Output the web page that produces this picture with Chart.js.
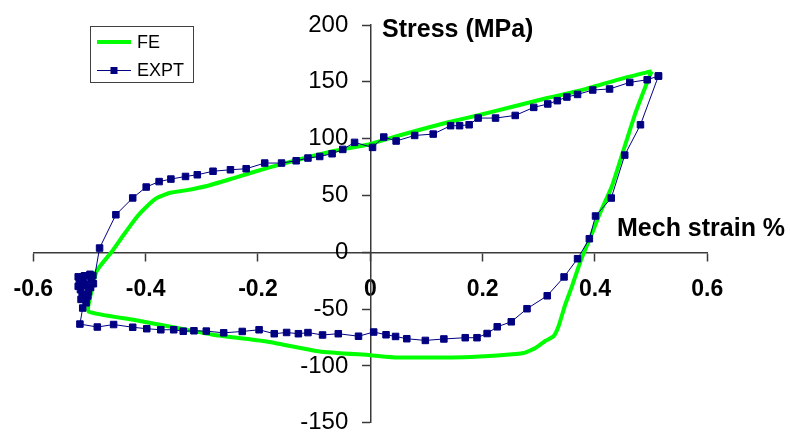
<!DOCTYPE html>
<html>
<head>
<meta charset="utf-8">
<script src="https://cdn.jsdelivr.net/npm/chart.js@4"></script>
<style>
  html, body { margin: 0; padding: 0; background: #ffffff; }
  #wrap { width: 790px; height: 432px; }
</style>
</head>
<body>
<div id="wrap"><canvas id="chart" width="790" height="432"></canvas></div>
<script>
// Hysteresis loop: mechanical strain (%) vs stress (MPa)

// Finite-element prediction
const strainFE = [0.501, 0.490, 0.472, 0.451, 0.430, 0.409, 0.393, 0.380, 0.371, 0.359,
  0.347, 0.335, 0.326, 0.312, 0.294, 0.273, 0.232, 0.166, 0.095, 0.048,
  0.000, -0.090, -0.185, -0.280, -0.327, -0.422, -0.502, -0.499, -0.487, -0.460,
  -0.439, -0.415, -0.398, -0.380, -0.356, -0.326, -0.291, -0.243, -0.184, -0.125,
  -0.065, -0.006, 0.053, 0.137, 0.196, 0.255, 0.315, 0.374, 0.451, 0.501];
const stressFE = [159.3, 145.9, 122.5, 90.2, 57.9, 34.5, 14.5, -0.7, -12.5, -30.1,
  -46.2, -65.3, -74.1, -77.9, -84.3, -88.7, -90.6, -92.4, -92.6, -92.6,
  -90.6, -87.3, -78.5, -72.6, -68.2, -59.4, -52.1, -40.0, -16.3, 0.7,
  15.4, 31.5, 40.3, 47.7, 52.4, 54.7, 58.3, 65.3, 74.1, 81.8,
  89.1, 94.6, 103.0, 114.2, 121.0, 128.3, 135.7, 142.4, 153.3, 159.3];

// Experimental measurements
const strainExpt = [0.513, 0.481, 0.453, 0.429, 0.401, 0.390, 0.369, 0.345, 0.315, 0.279,
  0.251, 0.226, 0.208, 0.190, 0.169, 0.131, 0.098, 0.065, 0.045, 0.028,
  0.006, -0.021, -0.057, -0.085, -0.111, -0.128, -0.149, -0.171, -0.198, -0.228,
  -0.261, -0.292, -0.314, -0.333, -0.350, -0.373, -0.398, -0.423, -0.457, -0.486,
  -0.517, -0.512, -0.506, -0.509, -0.515, -0.502, -0.513, -0.503, -0.516, -0.498,
  -0.506, -0.512, -0.520, -0.518, -0.494, -0.512, -0.497, -0.509, -0.499, -0.520,
  -0.493, -0.482, -0.453,
  -0.423, -0.399, -0.376, -0.355, -0.329, -0.308, -0.280, -0.249, -0.221, -0.188,
  -0.158, -0.132, -0.111, -0.090, -0.068, -0.049, -0.028, 0.004, 0.024, 0.046,
  0.079, 0.112, 0.143, 0.159, 0.176, 0.192, 0.223, 0.258, 0.291, 0.316,
  0.333, 0.350, 0.369, 0.396, 0.426, 0.462, 0.493, 0.513];
const stressExpt = [155.1, 112.2, 85.5, 47.7, 31.9, 11.9, -5.7, -21.7, -38.3, -49.7,
  -61.2, -65.6, -71.5, -75.2, -75.2, -76.3, -77.6, -76.1, -74.1, -72.6,
  -70.2, -73.9, -71.7, -72.8, -70.7, -71.7, -70.6, -71.7, -68.2, -69.7,
  -70.9, -69.4, -69.1, -69.5, -68.2, -68.2, -67.3, -66.0, -63.6, -65.8,
  -63.2, -49.1, -44.5, -40.0, -41.5, -34.8, -37.0, -38.5, -33.0, -31.0,
  -28.6, -29.0, -30.0, -25.1, -20.5, -24.0, -23.3, -20.7, -19.4, -21.6,
  -27.7, 3.7, 33.0,
  47.8, 57.4, 62.2, 64.4, 66.7, 68.2, 71.3, 72.6, 73.5, 78.5,
  78.5, 80.5, 82.9, 84.3, 86.7, 90.5, 96.7, 92.3, 101.4, 97.9,
  102.8, 104.0, 111.4, 111.4, 112.2, 118.1, 118.1, 120.4, 127.5, 130.5,
  133.4, 136.6, 138.9, 142.8, 143.7, 149.5, 151.8, 155.1];

// Axis ticks
const xTickValues = [-0.6, -0.4, -0.2, 0, 0.2, 0.4, 0.6];
const xTickLabels = ['-0.6', '-0.4', '-0.2', '0', '0.2', '0.4', '0.6'];
const yTickValues = [-150, -100, -50, 0, 50, 100, 150, 200];
const yTickLabels = ['-150', '-100', '-50', '0', '50', '100', '150', '200'];

const seriesNames = ['FE', 'EXPT'];
const axisTitles = { x: 'Mech strain %', y: 'Stress (MPa)' };

const toPoints = (xs, ys) => xs.map((x, i) => ({ x: x, y: ys[i] }));

const AXIS_COLOR = '#3a3a3a';
const FONT = '"Liberation Sans", Arial, sans-serif';
const Y_LABEL_GAP = 22;

// Centered axes should not reserve any layout space
function collapseScale(scale) {
  if (scale.isHorizontal()) { scale.height = 0; } else { scale.width = 0; }
  scale.paddingLeft = 0; scale.paddingRight = 0;
  scale.paddingTop = 0; scale.paddingBottom = 0;
}

// A value-positioned y axis puts its labels flush on the axis line; move them clear of the tick marks
function offsetYLabels(scale) {
  if (scale._labelShiftInstalled) return;
  scale._labelShiftInstalled = true;
  const base = scale._computeLabelItems.bind(scale);
  scale._computeLabelItems = (area) => base(area).map(item => {
    item.options.translation = [item.options.translation[0] - Y_LABEL_GAP, item.options.translation[1]];
    return item;
  });
}

const overlay = {
  id: 'overlay',
  afterDraw(chart) {
    const ctx = chart.ctx;
    ctx.save();
    // axis titles
    ctx.fillStyle = '#000000';
    ctx.font = 'bold 25px ' + FONT;
    ctx.textAlign = 'left';
    ctx.textBaseline = 'alphabetic';
    ctx.fillText(axisTitles.y, 382, 37);
    ctx.fillText(axisTitles.x, 617, 236);

    // legend box
    ctx.strokeStyle = '#404040';
    ctx.lineWidth = 1;
    ctx.strokeRect(90.5, 26.5, 103, 56);
    const ds = chart.data.datasets;
    const rows = [42, 70.5];
    ds.forEach((d, i) => {
      const y = rows[i];
      ctx.strokeStyle = d.borderColor;
      ctx.lineWidth = d.borderWidth;
      ctx.beginPath();
      ctx.moveTo(97, y);
      ctx.lineTo(131, y);
      ctx.stroke();
      if (d.pointRadius > 0) {
        ctx.fillStyle = d.pointBackgroundColor;
        ctx.fillRect(110.5, y - 3.5, 7, 7);
      }
      ctx.fillStyle = '#000000';
      ctx.font = '18px ' + FONT;
      ctx.textBaseline = 'middle';
      ctx.fillText(d.label, 137, y + 1);
    });
    ctx.restore();
  }
};

new Chart(document.getElementById('chart'), {
  type: 'scatter',
  data: {
    datasets: [
      {
        label: seriesNames[0],
        data: toPoints(strainFE, stressFE),
        showLine: true,
        borderColor: '#00ff00',
        backgroundColor: '#00ff00',
        borderWidth: 4,
        pointRadius: 0,
        tension: 0.15,
        order: 1
      },
      {
        label: seriesNames[1],
        data: toPoints(strainExpt, stressExpt),
        showLine: true,
        borderColor: '#000080',
        backgroundColor: '#000080',
        borderWidth: 1,
        pointStyle: 'rect',
        pointRadius: 4.6,
        pointBorderWidth: 1,
        pointBackgroundColor: '#000080',
        pointBorderColor: '#000080',
        tension: 0,
        order: 0
      }
    ]
  },
  options: {
    responsive: false,
    animation: false,
    devicePixelRatio: 1,
    layout: { padding: { left: 33.3, right: 82.7, top: 25, bottom: 9.3 } },
    plugins: {
      legend: { display: false },
      tooltip: { enabled: false }
    },
    scales: {
      x: {
        type: 'linear',
        position: { y: 0 },
        min: -0.6,
        max: 0.6,
        afterBuildTicks: (scale) => { scale.ticks = xTickValues.map(v => ({ value: v })); },
        afterFit: collapseScale,
        border: { display: true, color: AXIS_COLOR, width: 1.5 },
        grid: { drawOnChartArea: false, drawTicks: true, tickLength: 8, tickColor: AXIS_COLOR, tickWidth: 1.5 },
        ticks: {
          padding: 16,
          color: '#000000',
          maxRotation: 0,
          font: { family: FONT, size: 23, weight: 'bold' },
          callback: (v) => xTickLabels[xTickValues.findIndex(t => Math.abs(t - v) < 1e-9)]
        }
      },
      y: {
        type: 'linear',
        position: { x: 0 },
        min: -150,
        max: 200,
        afterBuildTicks: (scale) => { scale.ticks = yTickValues.map(v => ({ value: v })); },
        afterFit: collapseScale,
        afterUpdate: offsetYLabels,
        border: { display: true, color: AXIS_COLOR, width: 1.5 },
        grid: { drawOnChartArea: false, drawTicks: true, tickLength: 8, tickColor: AXIS_COLOR, tickWidth: 1.5 },
        ticks: {
          padding: 13,
          color: '#000000',
          font: { family: FONT, size: 24 },
          callback: (v) => yTickLabels[yTickValues.indexOf(v)]
        }
      }
    }
  },
  plugins: [overlay]
});
</script>
</body>
</html>
